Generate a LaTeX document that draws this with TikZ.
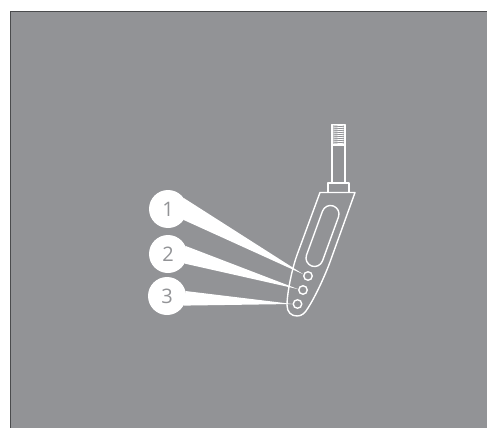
\documentclass[tikz,border=0pt]{standalone}
\usepackage{fontspec}
\setmainfont{Open Sans}
\definecolor{bggray}{HTML}{929396}
\definecolor{edgegray}{HTML}{4A4B4D}
\tikzset{
  callout/.style={circle,fill=white,minimum size=38pt,inner sep=0pt,text=bggray,font=\fontsize{20}{20}\selectfont},
  wedge/.style={fill=white,draw=none},
  part/.style={draw=white,line width=1.4pt,line join=round},
  hole/.style={circle,draw=white,line width=1.4pt,minimum size=8.5pt,inner sep=0pt}
}
\begin{document}
\begin{tikzpicture}[x=1pt,y=-1pt]
\useasboundingbox (0,0) rectangle (487,428);
\fill[white] (0,0) rectangle (487,428);
\fill[bggray] (10,11) rectangle (487,428);
\draw[edgegray,line width=0.8pt] (10.4,428) -- (10.4,11.4) -- (487,11.4);
% threads
\foreach \y in {126,128,...,144} \draw[white,line width=0.8pt] (332,\y) -- (345,\y-0.8);
% stem
\draw[part] (332,183) -- (332,124.5) -- (345,124.5) -- (345,183);
\draw[part] (332,145) -- (345,145);
% collar
\draw[part] (328,183) rectangle (349,192.5);
% body
\draw[part] (320,192.5) -- (355,192.5) -- (330,262)
  .. controls (324,278) and (315,297) .. (308,308)
  .. controls (305,313) and (302,316) .. (297,316)
  .. controls (291,316) and (287,312) .. (287,305)
  .. controls (287,295) and (291,272) .. (297,255)
  -- cycle;
% slot
\draw[part] (322.5,211.1) .. controls (324.1,206.7) and (329,204.4) .. (333.4,206)
  .. controls (337.8,207.6) and (340.1,212.5) .. (338.5,216.9)
  -- (322.5,260.9)
  .. controls (320.9,265.3) and (316,267.6) .. (311.6,266)
  .. controls (307.2,264.4) and (304.9,259.5) .. (306.5,255.1)
  -- cycle;
% holes
\node[hole] (h1) at (308,276) {};
\node[hole] (h2) at (303,290) {};
\node[hole] (h3) at (297.5,304) {};
% callouts
\node[callout] (n1) at (168,209) {1};
\node[callout] (n2) at (168,254) {2};
\node[callout] (n3) at (167,296) {3};
\fill[wedge] (n1.35) -- (h1.160) -- (n1.-35) -- cycle;
\fill[wedge] (n2.25) -- (h2.170) -- (n2.-30) -- cycle;
\fill[wedge] (n3.15) -- (h3.180) -- (n3.-30) -- cycle;
\end{tikzpicture}
\end{document}
